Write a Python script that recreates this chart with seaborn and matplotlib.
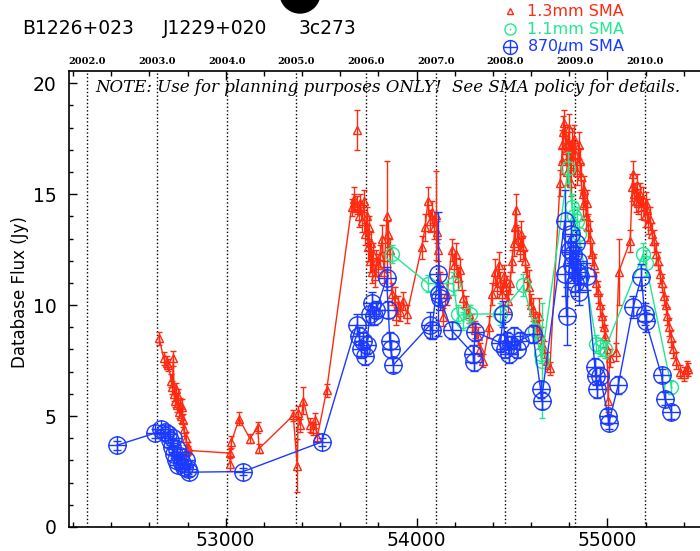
import matplotlib
matplotlib.use('Agg')
import matplotlib.pyplot as plt
from matplotlib.path import Path
from matplotlib.patches import Ellipse
from matplotlib.lines import Line2D
from matplotlib.ticker import MultipleLocator
import seaborn as sns

# ---- data (MJD, flux Jy, error Jy) ----
red_mjd = [52652, 52675, 52690, 52700, 52715, 52720, 52726, 52730, 52735, 52740, 52745, 52750, 52755, 52760, 52765, 52770, 52775, 52780, 52790, 52800, 52805,
           53022, 53025, 53030, 53070, 53127, 53168, 53175,
           53354, 53375, 53380, 53392, 53407, 53440, 53459, 53470, 53480, 53529,
           53660, 53670, 53675, 53690, 53700, 53705, 53715, 53725, 53730, 53740, 53745, 53750, 53755, 53760, 53765, 53770, 53780, 53790, 53800, 53810, 53820, 53830, 53845, 53852, 53860, 53870, 53885, 53895, 53905, 53915, 53930, 53950,
           54027, 54045, 54060, 54070, 54080, 54090, 54100, 54107, 54115, 54125, 54140, 54160, 54185, 54195, 54205, 54215, 54230, 54245, 54260, 54275, 54290, 54305, 54320, 54335, 54350,
           54380, 54395, 54410, 54420, 54430, 54440, 54450, 54460, 54470, 54480, 54490, 54500, 54510, 54515, 54520, 54530, 54540, 54550, 54560, 54570, 54580, 54590, 54600, 54610, 54620, 54630, 54640, 54650, 54660, 54670, 54685, 54699,
           54752, 54760, 54765, 54770, 54775, 54780, 54785, 54790, 54795, 54800, 54805, 54810, 54815, 54820, 54825, 54830, 54840, 54850, 54855, 54860, 54870, 54875, 54880, 54890, 54895, 54900, 54910, 54920, 54930, 54940, 54950, 54960, 54970, 54980, 54990, 54998, 55004, 55012,
           55045, 55060, 55120, 55130, 55135, 55140, 55150, 55155, 55160, 55170, 55175, 55185, 55195, 55200, 55210, 55215, 55225, 55235, 55245, 55255, 55265, 55275, 55285, 55295, 55305, 55315, 55325, 55335, 55345, 55360, 55380, 55400, 55415, 55425]
red_flux = [8.5, 7.6, 7.4, 7.3, 6.6, 6.3, 7.6, 6.0, 5.7, 6.2, 5.5, 5.9, 5.2, 5.5, 5.0, 5.4, 4.8, 4.4, 4.0, 3.6, 3.45,
            3.33, 2.86, 3.83, 4.88, 3.98, 4.5, 3.53,
            5.03, 2.77, 5.15, 4.58, 5.7, 4.6, 4.43, 4.8, 4.05, 6.16,
            14.4, 14.8, 14.6, 14.5, 14.0, 14.6, 13.8, 14.7, 13.2, 14.0, 12.6, 13.5, 12.0, 12.8, 11.5, 12.3, 11.3, 12.0, 11.8, 12.2, 13.0, 11.5, 14.0, 13.2, 12.5, 10.5, 10.3, 9.5, 10.0, 9.7, 10.2, 9.6,
            12.6, 13.5, 14.7, 13.8, 14.2, 13.5, 14.05, 13.3, 12.5, 11.0, 9.46, 10.5, 12.5, 11.8, 12.3, 11.2, 11.6, 10.3, 10.0, 9.6, 9.2, 8.9, 8.6, 8.0, 7.5,
            9.0, 10.5, 11.5, 10.8, 11.8, 11.0, 10.5, 11.3, 10.8, 10.2, 11.0, 12.0, 12.8, 13.5, 14.3, 13.0, 12.5, 13.2, 12.6, 12.0, 11.2, 10.8, 10.0, 9.8, 9.2, 8.8, 9.5, 8.6, 8.2, 8.0, 7.5, 7.15,
            15.5, 16.5, 17.2, 17.8, 18.2, 17.5, 17.0, 16.0, 17.2, 18.0, 16.8, 15.5, 17.3, 16.5, 17.5, 16.8, 16.0, 17.2, 16.5, 15.8, 15.0, 14.5, 15.2, 14.0, 14.6, 13.5, 13.0, 12.3, 11.8, 11.0, 10.6, 10.0, 9.5, 9.0, 8.6, 8.0, 5.7, 7.6,
            7.9, 11.5, 12.9, 15.3, 15.9, 15.0, 14.7, 15.4, 14.6, 15.0, 14.4, 14.8, 14.0, 14.6, 14.3, 13.7, 13.9, 13.2, 12.9, 12.3, 12.0, 11.4, 11.0, 10.4, 10.0, 9.5, 9.0, 8.5, 8.0, 7.5, 7.0, 6.9, 7.2, 7.1]
red_err = [0.3, 0.3, 0.3, 0.25, 0.3, 0.3, 0.35, 0.3, 0.3, 0.3, 0.3, 0.3, 0.3, 0.3, 0.3, 0.35, 0.3, 0.3, 0.3, 0.25, 0.2,
           0.2, 0.35, 0.25, 0.3, 0.2, 0.25, 0.2,
           0.25, 1.2, 0.3, 0.3, 0.6, 0.3, 0.3, 0.35, 0.2, 0.3,
           0.4, 0.5, 0.4, 0.4, 0.5, 0.4, 0.5, 0.5, 0.5, 0.4, 0.6, 0.5, 0.5, 0.5, 0.5, 0.5, 0.5, 0.5, 0.5, 0.5, 0.6, 0.5, 2.5, 0.6, 0.5, 0.5, 0.5, 0.4, 0.4, 0.4, 0.4, 0.4,
           0.5, 0.6, 0.6, 0.5, 0.5, 0.5, 2.0, 0.5, 0.5, 0.5, 0.4, 0.5, 0.5, 0.5, 0.5, 0.5, 0.5, 0.4, 0.4, 0.4, 0.4, 0.4, 0.4, 0.3, 0.3,
           0.5, 0.5, 0.6, 0.5, 0.6, 0.5, 0.5, 0.5, 0.5, 0.5, 0.5, 0.5, 0.6, 0.6, 0.7, 0.5, 0.5, 0.6, 0.5, 0.5, 0.5, 0.8, 0.5, 0.5, 0.5, 0.5, 0.8, 0.4, 0.4, 0.4, 0.4, 0.3,
           0.6, 0.6, 0.7, 0.7, 0.6, 0.6, 0.6, 0.6, 0.6, 0.6, 0.6, 0.6, 0.7, 0.6, 0.6, 0.6, 0.6, 0.6, 0.6, 0.6, 0.6, 0.6, 0.6, 0.6, 0.6, 0.6, 0.8, 0.5, 0.5, 0.5, 0.5, 0.5, 0.5, 0.5, 0.5, 0.4, 0.5, 0.4,
           0.4, 1.5, 0.5, 0.6, 0.6, 0.5, 0.5, 0.5, 0.5, 0.5, 0.5, 0.5, 0.5, 0.5, 0.5, 0.5, 0.5, 0.5, 0.5, 0.5, 0.4, 0.4, 0.4, 0.4, 0.4, 0.4, 0.4, 0.4, 0.4, 0.4, 0.3, 0.3, 0.3, 0.3]

# lone 1.3mm point not joined to the curve
red_solo_mjd = [53686]
red_solo_flux = [17.9]
red_solo_err = [0.9]

green_mjd = [53870, 54061, 54193, 54215, 54245, 54280, 54437, 54560, 54620, 54650, 54655,
             54795, 54815, 54825, 54840, 54850, 54943, 54960, 54987, 55188, 55200, 55336]
green_flux = [12.3, 10.97, 10.97, 9.6, 9.3, 9.6, 9.6, 10.9, 8.86, 7.8, 7.5,
              16.2, 14.4, 14.0, 13.8, 13.2, 8.26, 8.1, 8.0, 12.3, 11.9, 6.3]
green_err = [0.4, 0.4, 0.5, 0.4, 0.4, 0.4, 0.5, 0.5, 0.5, 0.4, 2.6,
             0.7, 0.6, 0.6, 0.6, 0.6, 0.4, 0.4, 0.4, 0.5, 0.6, 0.3]

blue_mjd = [52429, 52630, 52660, 52680, 52700, 52710, 52720, 52725, 52730, 52740, 52745, 52750, 52760, 52770, 52780, 52790, 52800, 52808, 53092, 53503,
            53686, 53700, 53710, 53720, 53730, 53740, 53755, 53765, 53775, 53790, 53843, 53852, 53860, 53865, 53878,
            54070, 54080, 54114, 54120, 54125, 54184, 54297, 54300, 54306,
            54440, 54455, 54465, 54475, 54485, 54495, 54510, 54525, 54540, 54610, 54650, 54655,
            54777, 54780, 54786, 54805, 54810, 54815, 54820, 54830, 54835, 54840, 54845, 54850, 54858, 54891, 54935, 54940, 54945, 54961, 55004, 55008, 55057,
            55135, 55179, 55195, 55200, 55284, 55301, 55336]
blue_flux = [3.68, 4.23, 4.4, 4.3, 4.2, 3.9, 3.6, 4.0, 3.3, 3.0, 3.5, 2.8, 3.2, 2.9, 2.7, 3.0, 2.6, 2.47, 2.5, 3.83,
             9.1, 8.6, 8.0, 8.4, 7.7, 8.2, 9.6, 10.1, 9.5, 9.8, 11.2, 9.8, 8.4, 8.0, 7.3,
             9.1, 8.86, 11.4, 10.5, 10.3, 8.86, 7.8, 7.43, 8.8,
             8.3, 9.6, 8.0, 8.4, 7.8, 8.2, 8.6, 8.0, 8.4, 8.7, 6.2, 5.7,
             13.8, 11.4, 9.5, 12.5, 13.2, 11.8, 12.3, 11.0, 12.8, 11.5, 12.0, 10.6, 11.3, 11.3, 7.2, 6.8, 6.2, 6.8, 5.0, 4.7, 6.4,
             9.9, 11.27, 9.6, 9.3, 6.83, 5.78, 5.18]
blue_err = [0.2, 0.2, 0.2, 0.2, 0.2, 0.2, 0.2, 0.2, 0.2, 0.2, 0.2, 0.2, 0.2, 0.2, 0.2, 0.2, 0.2, 0.15, 0.15, 0.2,
            0.5, 0.4, 0.4, 0.4, 0.4, 0.4, 0.5, 0.5, 0.4, 0.4, 0.5, 0.4, 0.4, 0.4, 0.3,
            0.6, 0.4, 2.8, 0.5, 0.5, 0.4, 0.4, 0.4, 0.4,
            0.4, 0.6, 0.4, 0.4, 0.4, 0.4, 0.4, 0.4, 0.4, 0.4, 0.4, 0.4,
            1.4, 1.0, 1.3, 0.6, 0.6, 0.6, 0.6, 0.6, 0.6, 0.6, 0.6, 0.6, 0.6, 0.6, 0.4, 0.4, 0.4, 0.4, 0.3, 0.3, 0.4,
            0.5, 0.6, 0.5, 0.5, 0.3, 0.3, 0.3]

year_labels = ['2002.0', '2003.0', '2004.0', '2005.0', '2006.0', '2007.0', '2008.0', '2009.0', '2010.0']
year_mjd = [52275, 52640, 53005, 53371, 53736, 54101, 54466, 54832, 55197]

RED = '#ff2a10'
GREEN = '#20e890'
BLUE = '#1a3aff'

sns.set_style('ticks')
plt.rcParams['font.family'] = ['DejaVu Sans']
plt.rcParams['text.color'] = 'black'
plt.rcParams['axes.edgecolor'] = 'black'
plt.rcParams['xtick.color'] = 'black'
plt.rcParams['ytick.color'] = 'black'

# circle-plus and circle-dot marker shapes
oplus = Path.make_compound_path(
    Path.unit_circle(),
    Path([(-1, 0), (1, 0), (0, -1), (0, 1)], [Path.MOVETO, Path.LINETO, Path.MOVETO, Path.LINETO]))
odot = Path.make_compound_path(
    Path.unit_circle(),
    Path([(-0.12, 0), (0.12, 0), (0, -0.12), (0, 0.12)], [Path.MOVETO, Path.LINETO, Path.MOVETO, Path.LINETO]))

fig = plt.figure(figsize=(7, 5.51), dpi=100)
ax = fig.add_axes([69 / 700, 24 / 551, 637 / 700, 456 / 551])

for m in year_mjd:
    ax.axvline(m, color='black', ls=':', lw=1, zorder=0)

# 1.3mm
sns.lineplot(x=red_mjd, y=red_flux, ax=ax, color=RED, lw=1, estimator=None, sort=False, zorder=2)
ax.errorbar(red_mjd, red_flux, yerr=red_err, fmt='^', ms=5.5, mfc='none', mec=RED, mew=1,
            ecolor=RED, elinewidth=1, capsize=2.2, capthick=1, ls='none', zorder=2)
ax.errorbar(red_solo_mjd, red_solo_flux, yerr=red_solo_err, fmt='^', ms=5.5, mfc='none', mec=RED, mew=1,
            ecolor=RED, elinewidth=1, capsize=2.2, capthick=1, ls='none', zorder=2)

# 1.1mm
sns.lineplot(x=green_mjd, y=green_flux, ax=ax, color=GREEN, lw=1, estimator=None, sort=False, zorder=3)
ax.errorbar(green_mjd, green_flux, yerr=green_err, fmt='none', ecolor=GREEN, elinewidth=1,
            capsize=2.5, capthick=1, zorder=3)
ax.plot(green_mjd, green_flux, ls='none', marker=odot, ms=10, mfc='none', mec=GREEN, mew=1, zorder=3)

# 870um
sns.lineplot(x=blue_mjd, y=blue_flux, ax=ax, color=BLUE, lw=1, estimator=None, sort=False, zorder=4)
ax.errorbar(blue_mjd, blue_flux, yerr=blue_err, fmt='none', ecolor=BLUE, elinewidth=1,
            capsize=3, capthick=1, zorder=4)
ax.plot(blue_mjd, blue_flux, ls='none', marker=oplus, ms=12.5, mfc='none', mec=BLUE, mew=1, zorder=4)

ax.set_xlim(52179, 55517)
ax.set_ylim(0, 20.55)
ax.set_xticks([53000, 54000, 55000])
ax.set_xticklabels(['53000', '54000', '55000'])
ax.xaxis.set_minor_locator(MultipleLocator(200))
ax.set_yticks([0, 5, 10, 15, 20])
ax.set_yticklabels(['0', '5', '10', '15', '20'])
ax.yaxis.set_minor_locator(MultipleLocator(1))
ax.tick_params(which='both', direction='in', top=True, right=False, width=1)
ax.tick_params(axis='x', which='major', length=6.5, labelsize=13.5, pad=3)
ax.tick_params(axis='x', which='minor', length=3.5)
ax.tick_params(axis='y', which='major', length=6, labelsize=13.5, pad=9)
ax.tick_params(axis='y', which='minor', length=3.2)
for s in ax.spines.values():
    s.set_linewidth(1.2)
    s.set_color('black')
ax.set_xlabel('')
ax.set_ylabel('')

trans = ax.get_xaxis_transform()
for m, lab in zip(year_mjd, year_labels):
    ax.text(m, 1 + 10 / 456, lab, transform=trans, ha='center', va='center',
            family='DejaVu Serif', fontweight='bold', fontsize=7, clip_on=False)

fig.text(20 / 700, 1 - 292 / 551, 'Database Flux (Jy)', rotation=90, ha='center', va='center', fontsize=12)

fig.text(22 / 700, 1 - 29 / 551, 'B1226+023', ha='left', va='center', fontsize=13.5)
fig.text(163 / 700, 1 - 29 / 551, 'J1229+020', ha='left', va='center', fontsize=13.5)
fig.text(299 / 700, 1 - 29 / 551, '3c273', ha='left', va='center', fontsize=13.5)

fig.text(95 / 700, 1 - 87 / 551, 'NOTE: Use for planning purposes ONLY!  See SMA policy for details.',
         ha='left', va='center', family='DejaVu Serif', style='italic', fontsize=12)

# legend in the top right corner
legend_rows = [('1.3mm SMA', RED, '^', 5), ('1.1mm SMA', GREEN, odot, 8), ('870$\\mu$m SMA', BLUE, oplus, 10)]
for i, (lab, col, mk, ms) in enumerate(legend_rows):
    yy = 1 - (11 + 18 * i) / 551
    fig.add_artist(Line2D([510 / 700], [yy], transform=fig.transFigure, marker=mk, ms=ms,
                          mfc='none', mec=col, mew=1, ls='none'))
    fig.text(527 / 700, yy, lab, color=col, ha='left', va='center', fontsize=11.5)

# dark blob cut off at the top edge
fig.add_artist(Ellipse((300 / 700, 1 + 7 / 551), 40 / 700, 40 / 551, transform=fig.transFigure,
                       color='black', clip_on=False))

fig.savefig('out.png', dpi=100)
